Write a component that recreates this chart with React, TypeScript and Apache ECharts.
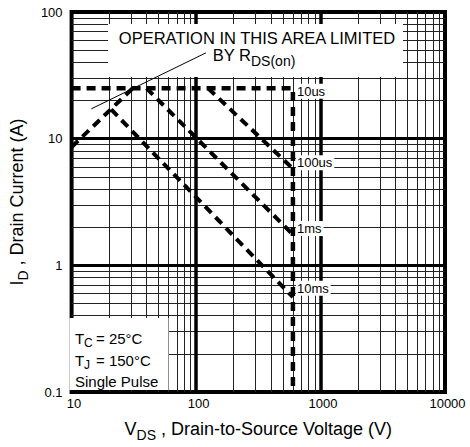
import React, { useEffect, useRef } from "react";
import * as echarts from "echarts";

const FONT = "'Liberation Sans', Arial, Helvetica, sans-serif";

// Axis ranges and tick labels
const xRange = [10, 10000];
const yRange = [0.1, 100];
const xTickLabels = ["10", "100", "1000", "10000"];
const yTickLabels = ["0.1", "1", "10", "100"];

// Grid lines (log decades)
const xMajorGrid = [100, 1000];
const xMinorGrid = [20, 30, 40, 50, 60, 70, 80, 90, 200, 300, 400, 500, 600, 700, 800, 900, 2000, 3000, 4000, 5000, 6000, 7000, 8000, 9000];
const yMajorGrid = [1, 10];
const yMinorGrid = [0.2, 0.3, 0.4, 0.5, 0.6, 0.7, 0.8, 0.9, 2, 3, 4, 5, 6, 7, 8, 9, 20, 30, 40, 50, 60, 70, 80, 90];

// SOA curves [V, A]
const curveLabels = ["10us", "100us", "1ms", "10ms"];
const curve10us = [[10, 25], [600, 25], [600, 0.1]];
const curve100us = [[125, 25], [600, 5.8]];
const curve1ms = [[40, 25], [600, 1.75]];
const curve10ms = [[20.8, 17], [600, 0.56]];
const rdsOnLimit = [[10, 8.6], [31, 25]];
const rdsPointer = [[14.4, 17.2], [120, 47.6]];

const labelFor = (v: number, arr: string[]) => {
  const s = arr.find((t) => Math.abs(parseFloat(t) - v) < 1e-9 * Math.max(1, v));
  return s ?? "";
};

function dashedSeries(
  name: string,
  data: number[][],
  width: number,
  label?: string,
  anchor?: number[],
  offsetY?: number
) {
  const s: any = {
    name,
    type: "line",
    data,
    symbol: "none",
    z: 3,
    silent: true,
    lineStyle: { color: "#000", width, type: [9, 6], cap: "butt" },
  };
  if (label && anchor) {
    s.markPoint = {
      z: 6,
      silent: true,
      symbol: "circle",
      symbolSize: 0,
      data: [
        {
          coord: anchor,
          label: {
            show: true,
            formatter: label,
            position: "right",
            distance: 3,
            offset: [0, offsetY || 0],
            color: "#000",
            fontSize: 13,
            fontFamily: FONT,
            backgroundColor: "#fff",
            padding: [1, 2, 1, 1],
          },
        },
      ],
    };
  }
  return s;
}

const plainText = (text: string, x: number, y: number, size: number, align: string, lineHeight?: number) => ({
  type: "text",
  z: 14,
  x,
  y,
  style: {
    text,
    fontSize: size,
    fontFamily: FONT,
    fill: "#000",
    align,
    verticalAlign: "middle",
    lineHeight: lineHeight ?? Math.round(size * 1.05),
  },
});

export default function App() {
  const ref = useRef<HTMLDivElement>(null);

  useEffect(() => {
    if (!ref.current) return;
    const chart = echarts.init(ref.current, undefined, { renderer: "svg" });

    const gridLineData = [
      ...xMinorGrid.map((v) => ({ xAxis: v, lineStyle: { width: 1, color: "#222" } })),
      ...yMinorGrid.map((v) => ({ yAxis: v, lineStyle: { width: 1, color: "#222" } })),
      ...xMajorGrid.map((v) => ({ xAxis: v, lineStyle: { width: 3.5, color: "#000" } })),
      ...yMajorGrid.map((v) => ({ yAxis: v, lineStyle: { width: 3.2, color: "#000" } })),
    ];

    const nameRich = {
      a: { fontSize: 18, fontFamily: FONT, color: "#000" },
      b: { fontSize: 14, fontFamily: FONT, color: "#000", padding: [12, 0, 0, 0] },
    };

    const option: any = {
      animation: false,
      backgroundColor: "#fff",
      grid: {
        left: 67,
        right: 25,
        top: 12,
        bottom: 55,
        show: true,
        backgroundColor: "#fff",
        borderColor: "#000",
        borderWidth: 4,
      },
      xAxis: {
        type: "log",
        logBase: 10,
        min: xRange[0],
        max: xRange[1],
        axisLine: { show: false },
        axisTick: { show: false },
        splitLine: { show: false },
        axisLabel: {
          color: "#000",
          fontSize: 13,
          fontFamily: FONT,
          margin: 5,
          padding: [0, 0, 0, 5],
          formatter: (v: number) => labelFor(v, xTickLabels),
        },
        name: "{a|V}{b|DS}{a| , Drain-to-Source Voltage (V)}",
        nameLocation: "middle",
        nameGap: 24,
        nameTextStyle: { rich: nameRich },
      },
      yAxis: {
        type: "log",
        logBase: 10,
        min: yRange[0],
        max: yRange[1],
        axisLine: { show: false },
        axisTick: { show: false },
        splitLine: { show: false },
        axisLabel: {
          color: "#000",
          fontSize: 13,
          fontFamily: FONT,
          margin: 9,
          padding: [4, 0, 0, 0],
          formatter: (v: number) => labelFor(v, yTickLabels),
        },
        name: "{a|I}{b|D}{a| , Drain Current (A)}",
        nameLocation: "middle",
        nameGap: 36,
        nameRotate: 90,
        nameTextStyle: { rich: nameRich },
      },
      graphic: [
        { type: "rect", z: 10, shape: { x: 108, y: 24, width: 295, height: 53 }, style: { fill: "#fff" } },
        plainText("OPERATION IN THIS AREA LIMITED", 257, 38, 16.5, "center", 16),
        plainText("BY R", 251, 55, 16.5, "right", 16),
        plainText("DS(on)", 251, 61, 14, "left", 13),
        { type: "rect", z: 10, shape: { x: 69.5, y: 318, width: 99, height: 72 }, style: { fill: "#fff" } },
        plainText("T", 75, 338, 15, "left"),
        plainText("C", 84, 343, 12, "left"),
        plainText("= 25°C", 96, 338, 15, "left"),
        plainText("T", 75, 360, 15, "left"),
        plainText("J", 84, 365, 12, "left"),
        plainText("= 150°C", 96, 360, 15, "left"),
        plainText("Single Pulse", 75, 381, 15, "left"),
      ],
      series: [
        {
          name: "grid",
          type: "line",
          data: [],
          z: 1,
          silent: true,
          markLine: {
            z: 1,
            silent: true,
            symbol: ["none", "none"],
            label: { show: false },
            lineStyle: { type: "solid", color: "#000", width: 1 },
            data: gridLineData,
          },
        },
        dashedSeries(curveLabels[0], curve10us, 4.5, curveLabels[0], curve10us[1], 3),
        dashedSeries(curveLabels[1], curve100us, 4, curveLabels[1], curve100us[curve100us.length - 1], -6),
        dashedSeries(curveLabels[2], curve1ms, 4, curveLabels[2], curve1ms[curve1ms.length - 1], -6),
        dashedSeries(curveLabels[3], curve10ms, 4, curveLabels[3], curve10ms[curve10ms.length - 1], -9),
        dashedSeries("RDS(on) limit", rdsOnLimit, 4),
        {
          name: "pointer",
          type: "line",
          data: rdsPointer,
          symbol: "none",
          z: 12,
          silent: true,
          lineStyle: { color: "#000", width: 1, type: "solid" },
        },
      ],
    };

    chart.setOption(option);
    return () => chart.dispose();
  }, []);

  return (
    <div
      ref={ref}
      style={{ position: "absolute", left: 0, top: 0, width: 470, height: 447 }}
    />
  );
}
